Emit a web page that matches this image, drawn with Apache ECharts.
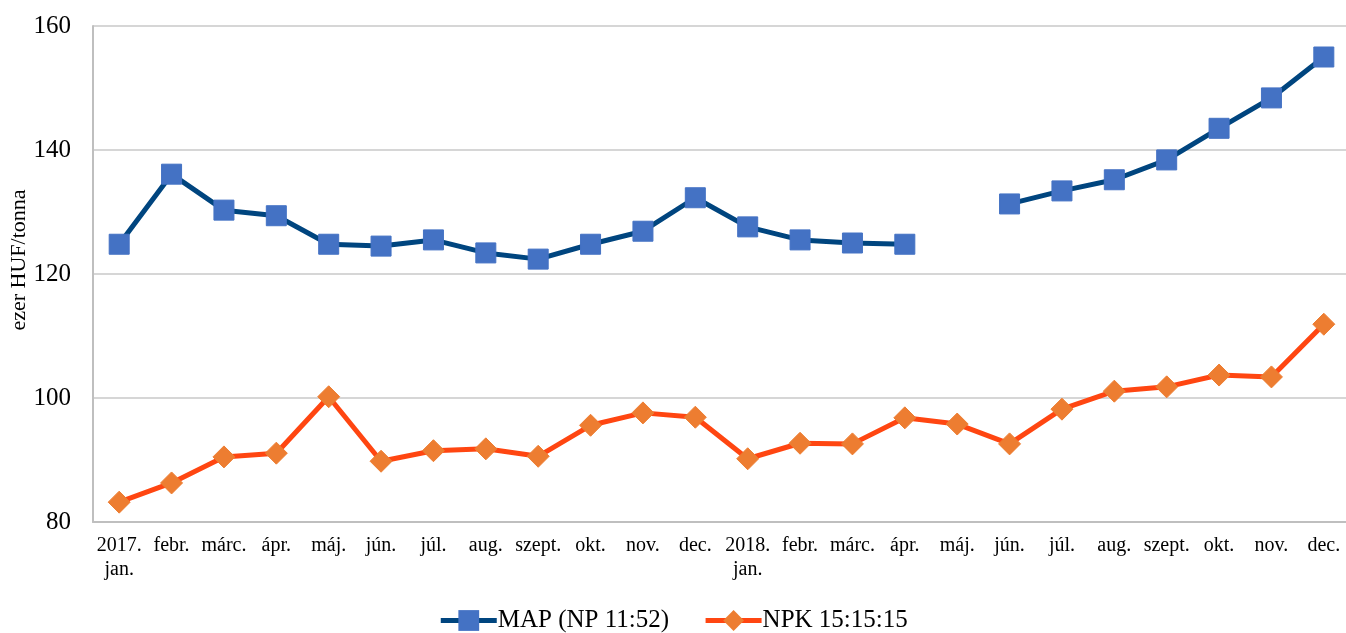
<!DOCTYPE html>
<html style="height: 100%">
<head>
    <meta charset="UTF-8">
    <script type="text/javascript" src="https://cdn.jsdelivr.net/npm/echarts@6/dist/echarts.min.js"></script>
    <style type="text/css">
        body {margin:0; padding:0; overflow:hidden; height: 100%; background: #fff}
    </style>
</head>
<body>
    <div id="container" style="width:1346px;height:633px"></div>
<script>
    // honapok, 2017-2018
    var months = ['2017.\njan.', 'febr.', 'márc.', 'ápr.', 'máj.', 'jún.', 'júl.', 'aug.', 'szept.', 'okt.', 'nov.', 'dec.',
                  '2018.\njan.', 'febr.', 'márc.', 'ápr.', 'máj.', 'jún.', 'júl.', 'aug.', 'szept.', 'okt.', 'nov.', 'dec.'];
    var mapValues = [124.8, 136.1, 130.3, 129.4, 124.8, 124.5, 125.5, 123.4, 122.4, 124.8, 126.9, 132.3,
                     127.6, 125.5, 125.0, 124.8, null, 131.3, 133.4, 135.2, 138.4, 143.5, 148.4, 155.0];
    var npkValues = [83.2, 86.3, 90.5, 91.1, 100.2, 89.8, 91.5, 91.8, 90.6, 95.6, 97.6, 96.9,
                     90.2, 92.7, 92.6, 96.8, 95.8, 92.6, 98.2, 101.1, 101.8, 103.7, 103.4, 111.9];
    var seriesNames = ['MAP (NP 11:52)', 'NPK 15:15:15'];

    var font = '"Liberation Serif", "Times New Roman", serif';
    var myChart = echarts.init(document.getElementById('container'));

    var option = {
        animation: false,
        textStyle: {fontFamily: font},
        grid: {
            left: 93,
            top: 26,
            width: 1257,
            height: 496,
            outerBoundsMode: 'none'
        },
        legend: {
            top: 603,
            left: 'center',
            itemWidth: 56,
            itemHeight: 26,
            itemGap: 34,
            lineStyle: {width: 5},
            textStyle: {fontFamily: font, fontSize: 25, color: '#000', padding: [0, 0, 0, -4]},
            data: seriesNames
        },
        xAxis: {
            type: 'category',
            data: months,
            boundaryGap: true,
            axisLine: {lineStyle: {color: '#BFBFBF', width: 2}},
            axisTick: {show: false},
            axisLabel: {
                interval: 0,
                color: '#000',
                fontFamily: font,
                fontSize: 20,
                margin: 12,
                lineHeight: 24
            }
        },
        yAxis: {
            type: 'value',
            min: 80,
            max: 160,
            interval: 20,
            name: 'ezer HUF/tonna',
            nameLocation: 'middle',
            nameGap: 63,
            nameMoveOverlap: false,
            nameTextStyle: {fontFamily: font, fontSize: 22, color: '#000', padding: [0, 0, 0, 28]},
            axisLine: {show: true, lineStyle: {color: '#BFBFBF', width: 2}},
            axisTick: {show: false},
            axisLabel: {color: '#000', fontFamily: font, fontSize: 25, margin: 22},
            splitLine: {lineStyle: {color: '#C8C8C8', width: 1.5}}
        },
        series: [{
            name: seriesNames[0],
            type: 'line',
            data: mapValues,
            connectNulls: false,
            symbol: 'rect',
            symbolSize: 20,
            lineStyle: {color: '#00457F', width: 5},
            itemStyle: {color: '#4472C4', borderColor: '#4472C4'},
            z: 3
        }, {
            name: seriesNames[1],
            type: 'line',
            data: npkValues,
            symbol: 'diamond',
            symbolSize: [22, 22],
            lineStyle: {color: '#FF4611', width: 5},
            itemStyle: {color: '#ED7D31', borderColor: '#ED7D31'},
            z: 2
        }]
    };
    myChart.setOption(option);
</script>
</body>
</html>
